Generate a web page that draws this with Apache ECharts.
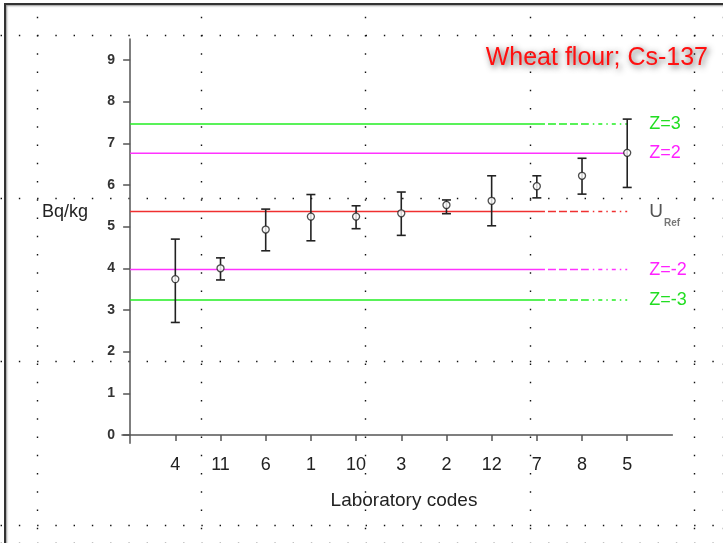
<!DOCTYPE html>
<html>
<head>
<meta charset="utf-8">
<style>
  html, body { margin: 0; padding: 0; background: #fff; }
  #main { position: absolute; left: 0; top: 0; width: 723px; height: 543px; }
  #frame {
    position: absolute; left: 4px; top: 3px; width: 760px; height: 600px;
    border-left: 2px solid #333; border-top: 2px solid #333;
    box-shadow: inset 1px 1px 2px #999; pointer-events: none;
  }
</style>
<script src="https://cdn.jsdelivr.net/npm/echarts@6/dist/echarts.min.js"></script>
</head>
<body>
<div id="main"></div>
<div id="frame"></div>
<script>
// lab results, in plotted order
const labCodes = ['4', '11', '6', '1', '10', '3', '2', '12', '7', '8', '5'];
const labValues = [3.74, 4.00, 4.93, 5.24, 5.24, 5.32, 5.52, 5.62, 5.97, 6.22, 6.77];
const labLower = [2.70, 3.72, 4.42, 4.66, 4.95, 4.79, 5.31, 5.02, 5.69, 5.78, 5.94];
const labUpper = [4.70, 4.25, 5.42, 5.77, 5.50, 5.83, 5.64, 6.22, 6.22, 6.64, 7.58];

const yTicks = [0, 1, 2, 3, 4, 5, 6, 7, 8, 9];

// reference value and z-score limits
const refNames = ['Z=3', 'Z=2', 'URef', 'Z=-2', 'Z=-3'];
const refValues = [7.46, 6.76, 5.36, 3.97, 3.24];

const refColors = ['#22ee22', '#ff33ff', '#f03030', '#ff33ff', '#22ee22'];
const labelColors = ['#22dd22', '#ff22ff', '#555', '#ff22ff', '#22dd22'];
const solidTo = 9.18, dashedTo = 10.15, lineEnd = 11;

const chart = echarts.init(document.getElementById('main'));

const positions = labCodes.map((c, i) => i + 1);

const refSeries = [];
refValues.forEach((v, i) => {
  const allSolid = refNames[i] === 'Z=2';
  // [from, to, dash, dashOffset]
  const segs = allSolid
    ? [[0, lineEnd, 'solid', 0]]
    : [[0, solidTo, 'solid', 0], [solidTo, dashedTo, [8, 3], 8], [dashedTo, lineEnd, [4, 4, 1.5, 4], 4]];
  segs.forEach((s, k) => {
    const last = k === segs.length - 1;
    refSeries.push({
      type: 'line',
      silent: true,
      symbol: 'none',
      z: 2,
      data: [[s[0], v], [s[1], v]],
      lineStyle: { color: refColors[i], width: 1.5, type: s[2], dashOffset: s[3] },
      endLabel: {
        show: last,
        distance: 22,
        formatter: refNames[i] === 'URef' ? '{u|U}{r|Ref}' : refNames[i],
        color: labelColors[i],
        fontSize: 18,
        fontFamily: '"Liberation Sans", Arial, sans-serif',
        rich: {
          u: { fontSize: 19, lineHeight: 20, color: '#555' },
          r: { fontSize: 10, lineHeight: 10, color: '#777', fontWeight: 'bold', padding: [24, 0, 0, 1] }
        }
      }
    });
  });
});

const dotStyle = { color: '#111', width: 1.4, type: [1.4, 16.85] };

const option = {
  animation: false,
  backgroundColor: '#fff',
  textStyle: { fontFamily: '"Liberation Sans", Arial, sans-serif' },
  grid: [
    { left: 122, right: 50.6, top: 39.1, bottom: 99.7 },
    { left: 37, right: 0, top: 16.8, bottom: 0 },
    { left: 0.6, right: 0, top: 35, bottom: 0 }
  ],
  xAxis: [
    {
      type: 'value', min: -0.18, max: 12,
      axisLine: { onZero: true, lineStyle: { color: '#555', width: 1.5 } },
      axisTick: { customValues: positions, length: 6, lineStyle: { color: '#555', width: 1.5 } },
      axisLabel: {
        customValues: positions, margin: 13, fontSize: 18, color: '#222',
        formatter: v => labCodes[Math.round(v) - 1]
      },
      splitLine: { show: false }
    },
    {
      gridIndex: 1, type: 'value', min: 0, max: 686, interval: 164.25,
      axisLine: { show: false }, axisTick: { show: false }, axisLabel: { show: false },
      splitLine: { show: true, lineStyle: dotStyle }
    },
    { gridIndex: 2, type: 'value', show: false }
  ],
  yAxis: [
    {
      type: 'value', min: -0.2, max: 9.5,
      axisLine: { onZero: true, lineStyle: { color: '#555', width: 1.5 } },
      axisTick: { customValues: yTicks, length: 7, lineStyle: { color: '#555', width: 1.5 } },
      axisLabel: { customValues: yTicks, margin: 7, fontSize: 14, fontWeight: 'bold', color: '#333' },
      splitLine: { show: false }
    },
    { gridIndex: 1, type: 'value', show: false },
    {
      gridIndex: 2, type: 'value', inverse: true, min: 0, max: 508, interval: 163.3,
      axisLine: { show: false }, axisTick: { show: false }, axisLabel: { show: false },
      splitLine: { show: true, lineStyle: dotStyle }
    }
  ],
  graphic: [
    {
      type: 'text', x: 708, y: 58, z: 100,
      style: {
        text: 'Wheat flour; Cs-137', align: 'right', verticalAlign: 'middle',
        font: '25px "Liberation Sans", Arial, sans-serif', fill: '#ff1010',
        textShadowColor: 'rgba(40,40,40,0.8)', textShadowBlur: 6,
        textShadowOffsetX: 2, textShadowOffsetY: 2
      }
    },
    {
      type: 'text', x: 42, y: 212, z: 100,
      style: {
        text: 'Bq/kg', align: 'left', verticalAlign: 'middle',
        font: '18px "Liberation Sans", Arial, sans-serif', fill: '#222'
      }
    },
    {
      type: 'text', x: 404, y: 501, z: 100,
      style: {
        text: 'Laboratory codes', align: 'center', verticalAlign: 'middle',
        font: '19px "Liberation Sans", Arial, sans-serif', fill: '#222'
      }
    }
  ],
  series: refSeries.concat([
    {
      type: 'custom',
      z: 5,
      silent: true,
      data: labCodes.map((c, i) => [i + 1, labLower[i], labUpper[i]]),
      encode: { x: 0, y: [1, 2] },
      renderItem: (params, api) => {
        const x = api.value(0);
        const lo = api.coord([x, api.value(1)]);
        const hi = api.coord([x, api.value(2)]);
        const w = 4.5;
        const style = { stroke: '#222', lineWidth: 1.6 };
        return {
          type: 'group',
          children: [
            { type: 'line', shape: { x1: lo[0], y1: lo[1], x2: hi[0], y2: hi[1] }, style },
            { type: 'line', shape: { x1: lo[0] - w, y1: lo[1], x2: lo[0] + w, y2: lo[1] }, style },
            { type: 'line', shape: { x1: hi[0] - w, y1: hi[1], x2: hi[0] + w, y2: hi[1] }, style }
          ]
        };
      }
    },
    {
      type: 'scatter',
      z: 6,
      silent: true,
      symbol: 'circle',
      symbolSize: 7,
      data: labCodes.map((c, i) => [i + 1, labValues[i]]),
      itemStyle: { color: '#fff', borderColor: '#222', borderWidth: 1.3 }
    }
  ])
};

chart.setOption(option);
</script>
</body>
</html>
